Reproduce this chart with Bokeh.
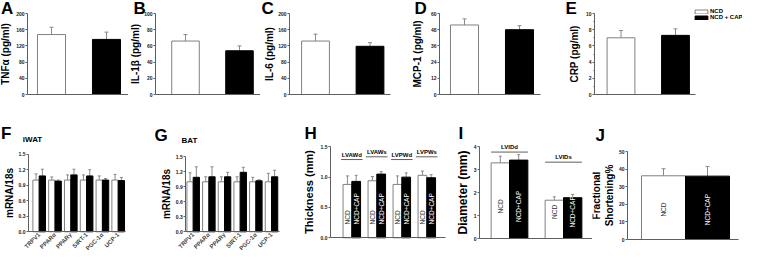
import math
from bokeh.plotting import figure
from bokeh.models import (ColumnDataSource, FixedTicker, Range1d, Label, LabelSet,
                          Whisker, TeeHead, Legend, LegendItem, NumeralTickFormatter)
from bokeh.layouts import row, column
from bokeh.embed import file_html
from bokeh.resources import INLINE
from bokeh.core.properties import value

# ---------------- data ----------------
serum_groups = ["NCD", "NCD + CAP"]
tnfa_mean = [148, 136]
tnfa_err = [18, 18]
il1b_mean = [66, 54]
il1b_err = [8, 6]
il6_mean = [132, 119]
il6_err = [17, 9]
mcp1_mean = [51.5, 48.0]
mcp1_err = [4.5, 3.0]
crp_mean = [7.0, 7.3]
crp_err = [0.9, 0.8]

ticks_tnfa = [0, 40, 80, 120, 160, 200]
ticks_il1b = [0, 20, 40, 60, 80, 100]
ticks_il6 = [0, 40, 80, 120, 160, 200]
ticks_mcp1 = [0, 12, 24, 36, 48, 60]
ticks_crp = [0, 2, 4, 6, 8, 10]

genes = ["TRPV1", "PPARα", "PPARγ", "SIRT-1", "PGC-1α", "UCP-1"]
iwat_ncd = [1.00, 1.00, 1.00, 1.00, 1.00, 1.00]
iwat_ncd_err = [0.12, 0.06, 0.10, 0.10, 0.08, 0.11]
iwat_cap = [1.08, 0.98, 1.10, 1.08, 1.00, 0.99]
iwat_cap_err = [0.13, 0.02, 0.11, 0.12, 0.03, 0.06]
bat_ncd = [1.00, 1.00, 1.00, 1.00, 1.00, 1.00]
bat_ncd_err = [0.18, 0.10, 0.10, 0.10, 0.09, 0.17]
bat_cap = [1.09, 1.10, 1.10, 1.19, 1.02, 1.10]
bat_cap_err = [0.21, 0.20, 0.09, 0.10, 0.02, 0.13]
ticks_mrna = [0.0, 0.3, 0.6, 0.9, 1.2, 1.5]

wall_groups = ["LVAWd", "LVAWs", "LVPWd", "LVPWs"]
wall_ncd = [0.88, 0.94, 0.88, 1.03]
wall_ncd_err = [0.14, 0.07, 0.14, 0.07]
wall_cap = [0.93, 1.05, 1.00, 0.99]
wall_cap_err = [0.10, 0.04, 0.07, 0.05]
ticks_wall = [0.0, 0.5, 1.0, 1.5]

dia_groups = ["LVIDd", "LVIDs"]
dia_ncd = [3.30, 1.67]
dia_ncd_err = [0.29, 0.15]
dia_cap = [3.42, 1.78]
dia_cap_err = [0.24, 0.14]
ticks_dia = [0, 1, 2, 3, 4]

fs_mean = [36.2, 36.0]
fs_err = [4.0, 5.5]
ticks_fs = [0, 10, 20, 30, 40, 50]

bar_names = ["NCD", "NCD+CAP"]

# ---------------- style ----------------
FONT = "Liberation Sans"
AX = "#5f5f5f"
ERR = "#8a8a8a"
WHITE_LINE = "#808080"
TICK_FONT = "5px"


class Geo:
    """Maps page pixels to data units for a figure whose frame fills its canvas."""

    def __init__(self, fx, fy, w, h, xa, xb, ya, yb):
        self.fx, self.fy, self.w, self.h = fx, fy, w, h
        self.sx = (xb[0] - xa[0]) / (xb[1] - xa[1])
        self.x0 = xa[0] - (xa[1] - fx) * self.sx
        self.sy = (yb[0] - ya[0]) / (ya[1] - yb[1])
        self.y0 = ya[0] - (fy + h - ya[1]) * self.sy

    def x(self, px):
        return self.x0 + (px - self.fx) * self.sx

    def y(self, py):
        return self.y0 + (self.fy + self.h - py) * self.sy

    def xr(self):
        return (self.x0, self.x0 + self.w * self.sx)

    def yr(self):
        return (self.y0, self.y0 + self.h * self.sy)


def make_fig(g):
    p = figure(width=g.w, height=g.h, x_range=Range1d(*g.xr()), y_range=Range1d(*g.yr()),
               output_backend="svg", toolbar_location=None,
               min_border_left=0, min_border_right=0, min_border_top=0, min_border_bottom=0,
               background_fill_color="white", border_fill_color="white")
    p.outline_line_color = None
    p.xgrid.visible = False
    p.ygrid.visible = False
    return p


def style_y(p, g, ticks, label, size, standoff, axis_px, fmt=None, minor=None):
    ax = p.yaxis[0]
    ax.fixed_location = g.x(axis_px)
    ax.ticker = FixedTicker(ticks=ticks, minor_ticks=minor or [])
    ax.bounds = (ticks[0], ticks[-1])
    ax.axis_line_color = AX
    ax.major_tick_line_color = AX
    ax.major_tick_out = 2
    ax.major_tick_in = 0
    ax.minor_tick_line_color = AX if minor else None
    ax.minor_tick_out = 1
    ax.minor_tick_in = 0
    ax.major_label_text_font = FONT
    ax.major_label_text_font_size = TICK_FONT
    ax.major_label_text_font_style = "bold"
    ax.major_label_text_color = "#222222"
    ax.major_label_standoff = 1
    ax.axis_label = label
    ax.axis_label_text_font = FONT
    ax.axis_label_text_font_size = size
    ax.axis_label_text_font_style = "bold"
    ax.axis_label_text_color = "black"
    ax.axis_label_standoff = standoff
    if fmt:
        ax.formatter = NumeralTickFormatter(format=fmt)


def style_x(p, g, left_px, right_px, ticks=None, labels=None):
    ax = p.xaxis[0]
    ax.fixed_location = 0
    ax.bounds = (g.x(left_px), g.x(right_px))
    ax.axis_line_color = AX
    ax.major_tick_line_color = None
    ax.minor_tick_line_color = None
    ax.major_tick_out = 0
    ax.major_tick_in = 0
    ax.ticker = FixedTicker(ticks=ticks or [])
    if ticks:
        ax.major_label_overrides = {t: s for t, s in zip(ticks, labels)}
        ax.major_label_orientation = math.pi / 4
        ax.major_label_text_font = FONT
        ax.major_label_text_font_size = "6px"
        ax.major_label_text_font_style = "bold"
        ax.major_label_standoff = 2


def bars(p, xs, tops, errs, width, fill, line, head=4):
    src = ColumnDataSource(dict(x=xs, top=tops, up=[t + e for t, e in zip(tops, errs)]))
    r = p.vbar(x="x", top="top", bottom=0, width=width, source=src,
               fill_color=fill, line_color=line, line_width=1)
    wk = Whisker(source=src, base="x", lower="top", upper="up", dimension="height",
                 line_color=ERR, line_width=1,
                 upper_head=TeeHead(size=head, line_color=ERR, line_width=1),
                 lower_head=None)
    p.add_layout(wk)
    return r


def text_at(p, g, txt, px, py, size, align="left", baseline="alphabetic"):
    p.add_layout(Label(x=g.x(px), y=g.y(py), text=txt,
                       text_font=FONT, text_font_size=size, text_font_style="bold",
                       text_align=align, text_baseline=baseline, text_color="black"))


def in_bar_text(p, xs, ys, texts, color, align, size="6.5px"):
    p.text(x=xs, y=ys, text=texts, angle=math.pi / 2, text_font=value(FONT),
           text_font_size=value(size), text_align=align, text_baseline="middle",
           text_color=color)


def group_labels(p, centers, levels, names, half):
    p.segment(x0=[c - half for c in centers], x1=[c + half for c in centers],
              y0=levels, y1=levels, line_color=AX, line_width=1)
    src = ColumnDataSource(dict(x=centers, y=levels, t=names))
    p.add_layout(LabelSet(x="x", y="y", text="t", source=src, y_offset=2,
                          text_font=value(FONT), text_font_size=value("6px"),
                          text_font_style="bold", text_align="center",
                          text_baseline="bottom", text_color="black"))


LETTER = "17px"

# ---------------- top row: canvases y 8..120 ----------------
TY, TH = 8, 112
ZERO_PX, TOPTICK_PX = 102, 21


def top_panel(let, ylabel, mean, err, ticks, fx, w, c1, c2, axis_px, right_px,
              standoff, let_px, minor=None):
    g = Geo(fx, TY, w, TH, (1, c1), (2, c2), (0, ZERO_PX), (ticks[-1], TOPTICK_PX))
    p = make_fig(g)
    style_y(p, g, ticks, ylabel, "10px", standoff, axis_px, minor=minor)
    style_x(p, g, axis_px, right_px)
    idx = list(range(1, len(serum_groups) + 1))
    rw = bars(p, idx[:1], mean[:1], err[:1], 0.51, "white", WHITE_LINE)
    rb = bars(p, idx[1:], mean[1:], err[1:], 0.51, "black", "black")
    text_at(p, g, let, let_px, 16, LETTER)
    return p, rw, rb


pA, _, _ = top_panel("A", "TNFα (pg/ml)", tnfa_mean, tnfa_err, ticks_tnfa,
                     8, 128, 59, 114, 35, 136, 2, 8.5)
pB, _, _ = top_panel("B", "IL-1β (pg/ml)", il1b_mean, il1b_err, ticks_il1b,
                     136, 132, 193, 247, 163, 268, 0, 141)
pC, _, _ = top_panel("C", "IL-6 (pg/ml)", il6_mean, il6_err, ticks_il6,
                     268, 152, 323, 377.5, 297, 398, 0, 269)
pD, _, _ = top_panel("D", "MCP-1 (pg/ml)", mcp1_mean, mcp1_err, ticks_mcp1,
                     420, 150, 472, 527, 447, 548, 5, 422)
pE, rw, rb = top_panel("E", "CRP (pg/ml)", crp_mean, crp_err, ticks_crp,
                       570, 180, 628.5, 683, 602, 703, 3, 573, minor=[1, 3, 5, 7, 9])

legend = Legend(items=[LegendItem(label=serum_groups[0], renderers=[rw]),
                       LegendItem(label=serum_groups[1], renderers=[rb])],
                location=(131, 92), orientation="vertical",
                glyph_width=16, glyph_height=5, label_height=6, label_width=10,
                label_standoff=1, spacing=0, padding=0, margin=0,
                border_line_color=None, background_fill_alpha=0,
                label_text_font=FONT, label_text_font_size="6px",
                label_text_font_style="bold", label_text_color="black")
pE.add_layout(legend, "center")

# ---------------- bottom row: canvases y 120..258 ----------------
BY, BH = 120, 138


def gene_panel(let, ttl, ncd, ncd_err, cap, cap_err, fx, w, c1, c6, zero_px, top_px,
               axis_px, right_px, let_px, let_base, ttl_px, ttl_py):
    g = Geo(fx, BY, w, BH, (1, c1), (6, c6), (0, zero_px), (ticks_mrna[-1], top_px))
    p = make_fig(g)
    style_y(p, g, ticks_mrna, "mRNA/18s", "10px", 1, axis_px, fmt="0.0")
    idx = list(range(1, len(genes) + 1))
    style_x(p, g, axis_px, right_px, ticks=idx, labels=genes)
    bars(p, [i - 0.2 for i in idx], ncd, ncd_err, 0.4, "white", WHITE_LINE, head=3)
    bars(p, [i + 0.2 for i in idx], cap, cap_err, 0.4, "black", "black", head=3)
    text_at(p, g, let, let_px, let_base, LETTER)
    text_at(p, g, ttl, ttl_px, ttl_py, "8px", align="center", baseline="middle")
    return p


pF = gene_panel("F", "iWAT", iwat_ncd, iwat_ncd_err, iwat_cap, iwat_cap_err,
                8, 142, 46.7, 125.7, 239.3, 161.7, 36, 133.3, 8.5, 141, 40, 147)
pG = gene_panel("G", "BAT", bat_ncd, bat_ncd_err, bat_cap, bat_cap_err,
                150, 150, 200.7, 279, 239.3, 164.3, 193.3, 286.7, 162, 143, 197, 148)

# H: wall thickness
gH = Geo(300, BY, 160, BH, (1, 359.3), (4, 434.3), (0, 245.3), (ticks_wall[-1], 154.3))
pH = make_fig(gH)
style_y(pH, gH, ticks_wall, "Thickness (mm)", "11px", 3, 338, fmt="0.0")
style_x(pH, gH, 338, 453)
hidx = list(range(1, len(wall_groups) + 1))
bars(pH, [i - 0.175 for i in hidx], wall_ncd, wall_ncd_err, 0.35, "white", WHITE_LINE, head=3)
bars(pH, [i + 0.175 for i in hidx], wall_cap, wall_cap_err, 0.35, "black", "black", head=3)
in_bar_text(pH, [i - 0.175 for i in hidx], [0.22] * len(hidx), [bar_names[0]] * len(hidx), "#333333", "left")
in_bar_text(pH, [i + 0.175 for i in hidx], [0.22] * len(hidx), [bar_names[1]] * len(hidx), "white", "left")
group_labels(pH, hidx, [1.29, 1.335, 1.29, 1.335], wall_groups, 0.43)
text_at(pH, gH, "H", 312, 141, LETTER)

# I: diameters
gI = Geo(460, BY, 140, BH, (1, 517), (2, 571), (0, 246), (ticks_dia[-1], 154.3))
pI = make_fig(gI)
style_y(pI, gI, ticks_dia, "Diameter (mm)", "12px", 1, 487)
style_x(pI, gI, 487, 600)
iidx = list(range(1, len(dia_groups) + 1))
bars(pI, [i - 0.17 for i in iidx], dia_ncd, dia_ncd_err, 0.34, "white", WHITE_LINE, head=3)
bars(pI, [i + 0.17 for i in iidx], dia_cap, dia_cap_err, 0.34, "black", "black", head=3)
in_bar_text(pI, [i - 0.17 for i in iidx], [1.4, 1.16], [bar_names[0]] * 2, "#333333", "center")
in_bar_text(pI, [i + 0.17 for i in iidx], [1.4, 1.16], [bar_names[1]] * 2, "white", "center")
group_labels(pI, iidx, [3.77, 3.33], dia_groups, 0.34)
text_at(pI, gI, "I", 466, 141, LETTER)

# J: fractional shortening
gJ = Geo(600, BY, 150, BH, (1, 671), (2, 715), (0, 247), (ticks_fs[-1], 159))
pJ = make_fig(gJ)
style_y(pJ, gJ, ticks_fs, "Fractional\nShortening%", "10px", 1, 635)
style_x(pJ, gJ, 635, 746)
bars(pJ, [1], fs_mean[:1], fs_err[:1], 1.0, "white", WHITE_LINE, head=4)
bars(pJ, [2], fs_mean[1:], fs_err[1:], 1.0, "black", "black", head=4)
in_bar_text(pJ, [1, 2], [17, 17], bar_names, ["#333333", "white"], "center")
text_at(pJ, gJ, "J", 603, 143, LETTER)

layout = column(row(pA, pB, pC, pD, pE), row(pF, pG, pH, pI, pJ))

open("out.html", "w").write(file_html(layout, INLINE))
